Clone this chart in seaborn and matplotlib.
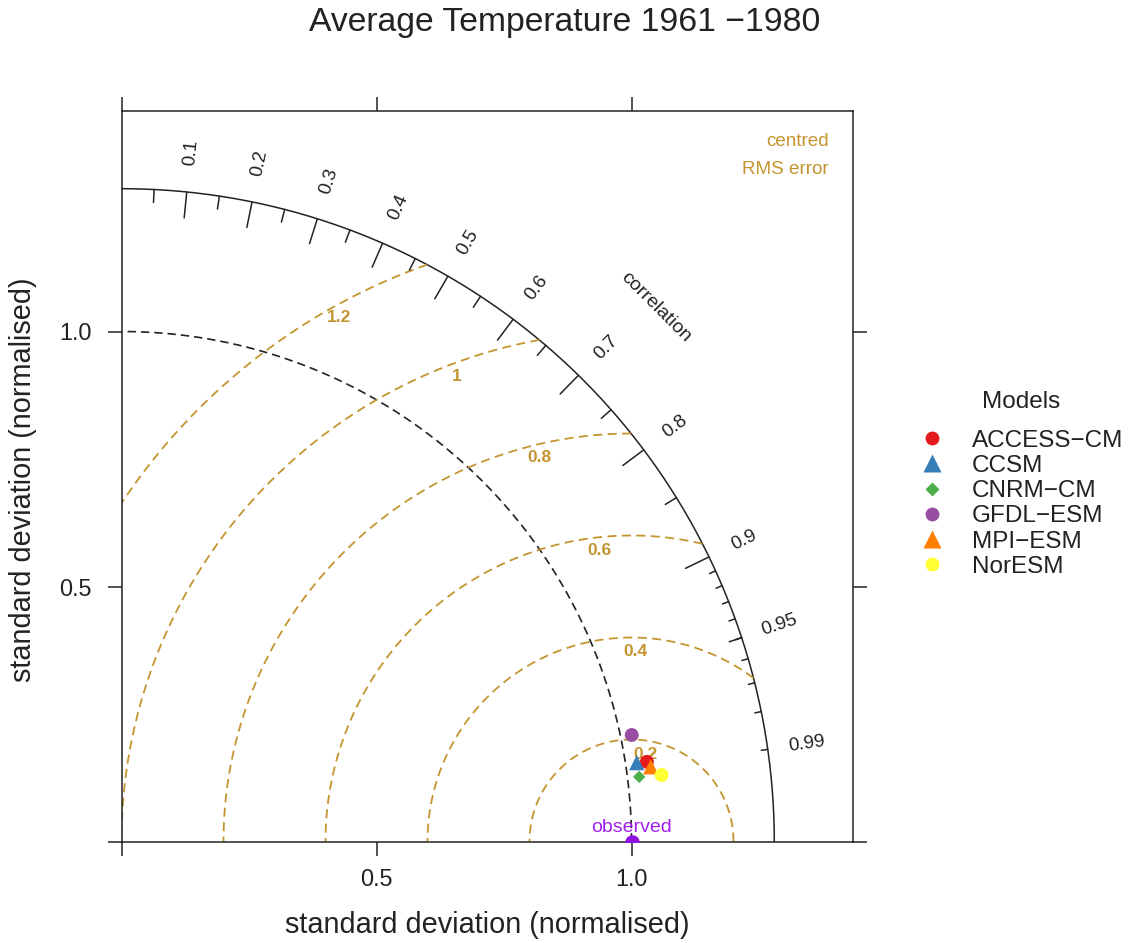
"""
Taylor diagram – average temperature 1961-1980, normalised to observations.
"""
import numpy as np
import pandas as pd
import matplotlib
matplotlib.use("Agg")
import matplotlib.pyplot as plt
from matplotlib.lines import Line2D
import seaborn as sns

# ── data ───────────────────────────────────────────────────────
MODELS = ["ACCESS−CM", "CCSM", "CNRM−CM", "GFDL−ESM", "MPI−ESM", "NorESM"]
SD_NORM = [1.042, 1.022, 1.023, 1.022, 1.048, 1.067]      # sd / sd(obs)
CORR = [0.9887, 0.9885, 0.9923, 0.9789, 0.9902, 0.9925]   # correlation with obs

OBS_SD = 1.0
MAX_SD = 1.28
RMS_LEVELS = [0.2, 0.4, 0.6, 0.8, 1.0, 1.2]
CORR_LABELS = [0.1, 0.2, 0.3, 0.4, 0.5, 0.6, 0.7, 0.8, 0.9, 0.95, 0.99]
BIG_TICKS = [0.1, 0.2, 0.3, 0.4, 0.5, 0.6, 0.7, 0.8, 0.9]
MED_TICKS = [0.05, 0.15, 0.25, 0.35, 0.45, 0.55, 0.65, 0.75, 0.85, 0.95]
SMALL_TICKS = [0.91, 0.92, 0.93, 0.94, 0.95, 0.96, 0.97, 0.98, 0.99]

# ── styles ─────────────────────────────────────────────────────
COLORS = ["#E41A1C", "#377EB8", "#4DAF4A", "#984EA3", "#FF7F00", "#FFFF33"]
MARKERS = ["o", "^", "D", "o", "^", "o"]
SIZES = [100, 121, 40, 100, 121, 100]
LEG_MS = [10, 13, 7, 10, 13, 10]
INK = "#222222"
RMS_COL = "#C4952F"
OBS_COL = "#A020F0"
DASH = (0, (5, 3))
RMS_LABEL_ANGLES = [82, 89, 96, 103, 110, 118.5]   # degrees round (obs, 0)

sns.set_theme(style="ticks")
plt.rcParams["font.family"] = ["Liberation Sans", "DejaVu Sans"]

W, H = 1128, 943
PX = 510  # pixels per unit of normalised sd
fig = plt.figure(figsize=(W / 100, H / 100), dpi=100, facecolor="white")
ax = fig.add_axes([121.5 / W, (H - 841.5) / H, 731.5 / W, 731 / H])
ax.set_xlim(0, 731.5 / PX)
ax.set_ylim(0, 731 / PX)

# outer sd arc and obs sd arc
th = np.linspace(0, np.pi / 2, 400)
ax.plot(MAX_SD * np.cos(th), MAX_SD * np.sin(th), color=INK, lw=1.1)
ax.plot(OBS_SD * np.cos(th), OBS_SD * np.sin(th), color=INK, lw=1.2, ls=DASH)

# centred RMS error arcs
for g, ang in zip(RMS_LEVELS, RMS_LABEL_ANGLES):
    t0 = np.arccos(np.clip((MAX_SD**2 - OBS_SD**2 - g**2) / (2 * g * OBS_SD), -1, 1))
    t1 = np.arccos(np.clip(-OBS_SD / g, -1, 1))
    t = np.linspace(t0, t1, 300)
    ax.plot(OBS_SD + g * np.cos(t), g * np.sin(t), color=RMS_COL, lw=1.3, ls=DASH)
    a = np.radians(ang)
    ax.text(OBS_SD + g * np.cos(a), g * np.sin(a) - 0.027, f"{g:g}", color=RMS_COL,
            fontsize=12.5, fontweight="bold", ha="center", va="center")

# correlation ticks
for vals, inner in [(BIG_TICKS, 0.96), (MED_TICKS, 0.98), (SMALL_TICKS, 0.99)]:
    a = np.arccos(vals)
    ax.plot(np.vstack([np.cos(a), np.cos(a) * inner]) * MAX_SD,
            np.vstack([np.sin(a), np.sin(a) * inner]) * MAX_SD, color=INK, lw=1.1)

for c in CORR_LABELS:
    a = np.arccos(c)
    ax.text(1.06 * MAX_SD * np.cos(a), 1.06 * MAX_SD * np.sin(a), f"{c:g}",
            rotation=np.degrees(a), rotation_mode="anchor", ha="center", va="center",
            fontsize=13.6, color=INK)

ax.text(1.048, 1.048, "correlation", rotation=-45, rotation_mode="anchor",
        ha="center", va="center", fontsize=14, color=INK)
ax.text(1.387, 1.372, "centred", ha="right", va="center", fontsize=13.6, color=RMS_COL)
ax.text(1.387, 1.317, "RMS error", ha="right", va="center", fontsize=13.6, color=RMS_COL)

# observed point
sns.scatterplot(x=[OBS_SD], y=[0.0], color="#9010E0", s=110, linewidth=0, ax=ax, zorder=6)
ax.text(OBS_SD, 0.019, "observed", ha="center", va="baseline", fontsize=14, color=OBS_COL)

# model points
df = pd.DataFrame({"model": MODELS, "sd": SD_NORM, "corr": CORR})
df["x"] = df["sd"] * df["corr"]
df["y"] = df["sd"] * np.sqrt(1 - df["corr"] ** 2)
sns.scatterplot(data=df, x="x", y="y", hue="model", style="model", size="model",
                palette=dict(zip(MODELS, COLORS)), markers=dict(zip(MODELS, MARKERS)),
                sizes=dict(zip(MODELS, SIZES)), linewidth=0, legend=False, ax=ax, zorder=7)

# axes frame and ticks
ax.set_xticks([0, 0.5, 1.0])
ax.set_xticklabels(["", "0.5", "1.0"])
ax.set_yticks([0, 0.5, 1.0])
ax.set_yticklabels(["", "0.5", "1.0"])
ax.tick_params(direction="out", length=10, width=1.1, color=INK, labelcolor=INK,
               labelsize=16.8, top=True, right=True, labeltop=False, labelright=False)
ax.tick_params(axis="x", pad=9)
ax.tick_params(axis="y", pad=11.5)
for sp in ax.spines.values():
    sp.set_color(INK)
    sp.set_linewidth(1.1)
ax.grid(False)

ax.set_xlabel("standard deviation (normalised)", fontsize=20.8, color=INK)
ax.set_ylabel("standard deviation (normalised)", fontsize=20.8, color=INK)
ax.xaxis.set_label_coords(0.5, (841.5 - 911) / 731)
ax.yaxis.set_label_coords((37 - 121.5) / 731.5, (841.5 - 480) / 731)

fig.text(564.5 / W, 1 - 22 / H, "Average Temperature 1961 −1980", ha="center", va="center",
         fontsize=24.3, color=INK)

# legend
handles = [Line2D([], [], ls="", marker=m, ms=ms, color=c, mec="none")
           for m, ms, c in zip(MARKERS, LEG_MS, COLORS)]
fig.text(1021 / W, 1 - 402 / H, "Models", ha="center", va="center", fontsize=17.5, color=INK)
fig.legend(handles, MODELS, loc="upper left", bbox_to_anchor=(920 / W, 1 - 429.5 / H),
           frameon=False, fontsize=17.5, handlelength=1.0, handletextpad=1.13,
           labelspacing=0.135, borderpad=0, borderaxespad=0, labelcolor=INK)

fig.savefig("out.png", dpi=100, facecolor="white")
